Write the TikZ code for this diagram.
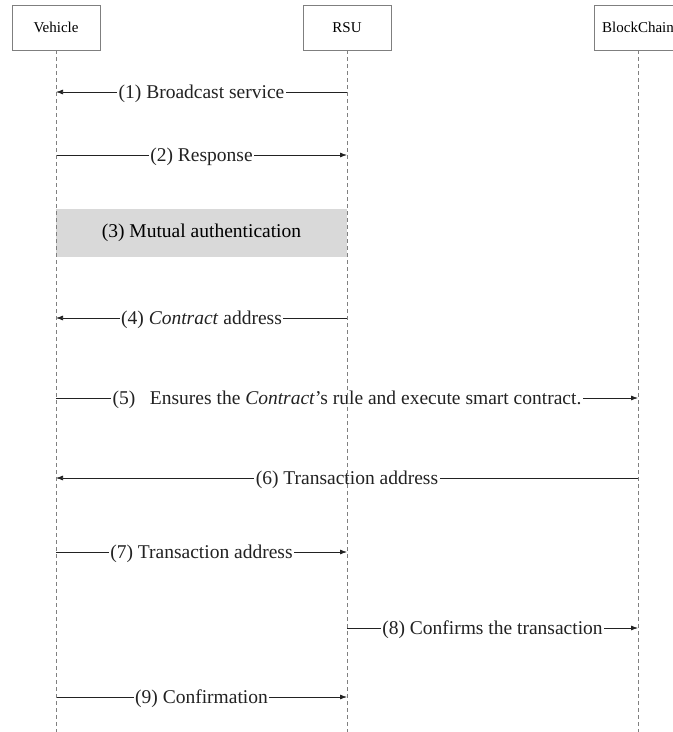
\documentclass[tikz,border=0pt]{standalone}
\usepackage{fontspec}
\setmainfont{Liberation Serif}
\usetikzlibrary{arrows.meta, positioning, calc}
\definecolor{inkcol}{HTML}{222222}
\definecolor{boxcol}{HTML}{7F7F7F}
\definecolor{lifecol}{HTML}{808080}
\definecolor{authcol}{HTML}{D9D9D9}

\begin{document}
\begin{tikzpicture}[
  x=1pt, y=-1pt,
  actor/.style={rectangle, draw=boxcol, fill=white, line width=0.8pt,
                minimum width=88pt, minimum height=45pt, inner sep=0pt,
                font=\fontsize{15}{17}\selectfont},
  life/.style={draw=lifecol, line width=0.6pt, dash pattern=on 4pt off 3pt},
  msg/.style={draw=inkcol, line width=0.75pt, -{Latex[length=7pt,width=5pt]}},
  lbl/.style={fill=white, inner sep=1.5pt, text=inkcol, yshift=-1.5pt,
              font=\fontsize{19.5}{22}\selectfont},
  authbox/.style={rectangle, fill=authcol, inner sep=0pt,
                  minimum width=291pt, minimum height=48pt,
                  font=\fontsize{19.5}{22}\selectfont},
]
  \useasboundingbox (0,0) rectangle (673,732);
  \clip (0,0) rectangle (673,732);

  % actors
  \node[actor] (veh) at (56,27.5) {Vehicle};
  \node[actor] (rsu) at (347,27.5) {RSU};
  \node[actor] (bc)  at (638,27.5) {BlockChain};

  % ends of the lifelines
  \coordinate (vehEnd) at (56,732);
  \coordinate (rsuEnd) at (347,732);
  \coordinate (bcEnd)  at (638,732);

  % message points on the lifelines
  \foreach \k/\y in {1/92, 2/155, 4/318, 5/398, 6/478, 7/552, 8/628, 9/697} {
    \coordinate (v\k) at (56,\y);
    \coordinate (r\k) at (347,\y);
    \coordinate (b\k) at (638,\y);
  }

  % messages
  \draw[msg] (r1) -- node[lbl]{(1) Broadcast service} (v1);
  \draw[msg] (v2) -- node[lbl]{(2) Response} (r2);
  \node[authbox] (auth) at (201.5,233) {(3) Mutual authentication};
  \draw[msg] (r4) -- node[lbl]{(4) \textit{Contract} address} (v4);
  \draw[msg] (v5) -- node[lbl]{(5)\ \ \ Ensures the \textit{Contract}'s rule and execute smart contract.} (b5);
  \draw[msg] (b6) -- node[lbl]{(6) Transaction address} (v6);
  \draw[msg] (v7) -- node[lbl]{(7) Transaction address} (r7);
  \draw[msg] (r8) -- node[lbl]{(8) Confirms the transaction} (b8);
  \draw[msg] (v9) -- node[lbl]{(9) Confirmation} (r9);

  % lifelines
  \draw[life] (veh.south) -- (vehEnd);
  \draw[life] (rsu.south) -- (rsuEnd);
  \draw[life] (bc.south) -- (bcEnd);
\end{tikzpicture}
\end{document}
